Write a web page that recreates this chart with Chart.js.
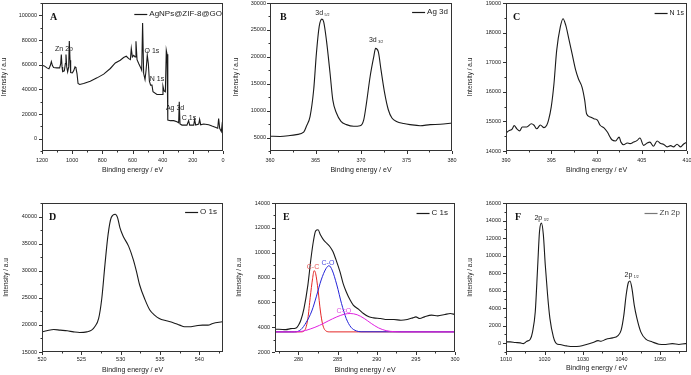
<!DOCTYPE html>
<html>
<head>
<meta charset="utf-8">
<script src="https://cdn.jsdelivr.net/npm/chart.js@4.4.1/dist/chart.umd.min.js"></script>
<style>
body { margin: 0; background: #fff; }
#wrap { position: relative; width: 691px; height: 375px; overflow: hidden; background: #fff; }
canvas { position: absolute; }
</style>
</head>
<body>
<div id="wrap">
  <canvas id="pA" width="230" height="185" style="left:0;top:0"></canvas>
  <canvas id="pB" width="230" height="185" style="left:230px;top:0"></canvas>
  <canvas id="pC" width="231" height="185" style="left:460px;top:0"></canvas>
  <canvas id="pD" width="230" height="190" style="left:0;top:185px"></canvas>
  <canvas id="pE" width="230" height="190" style="left:230px;top:185px"></canvas>
  <canvas id="pF" width="231" height="190" style="left:460px;top:185px"></canvas>
</div>
<script>
// A - survey
const surveyBE = [1200,1185,1167,1154,1145,1138,1131,1123,1101,1083,1076,1072,1067,1063,1052,1045,1041,1036,1030,1023,
  1019,1014,1010,999,990,981,975,968,961,950,924,880,835,791,747,714,681,659,641,625,
  614,608,601,592,583,577,570,559,548,539,533,526,517,510,502,495,488,480,471,464,
  438,404,398,391,382,376,371,367,365,349,327,305,294,290,285,272,239,228,221,194,
  188,181,161,155,148,128,95,73,51,35,29,22,11,4,0];
const surveyInt = [59560,59020,57400,56600,59300,62500,59300,57700,57400,57400,60900,68200,58200,54400,55000,60900,68200,58200,54200,58200,
  79200,63600,53600,53400,55000,58200,57400,52800,44700,43900,44700,46600,49300,52300,56900,61400,63600,65800,66800,64900,
  64100,73000,66300,67600,66300,79000,64100,60900,58200,55500,93800,52800,48000,55500,67600,60900,46600,43400,43400,38000,
  35800,35800,42600,38800,38000,71700,68400,58200,15100,14600,14600,13700,12900,29900,11900,11000,11000,14600,11000,11000,
  15600,11000,11900,15600,11300,11900,11300,10200,9200,8400,16400,8400,5700,13700,3000];
const surveyXTicks = [0,200,400,600,800,1000,1200];
const surveyYTicks = [0,20000,40000,60000,80000,100000];

// B - Ag 3d
const ag3dBE = [360,361.1,362.2,362.9,363.7,364.0,364.4,364.8,365.1,365.4,365.7,365.9,366.2,366.6,366.9,367.3,367.8,368.4,369.2,369.9,
  370.3,370.6,371.0,371.4,371.6,371.9,372.2,372.6,373.0,373.4,373.9,374.7,375.4,376.5,377.6,378.7,380];
const ag3dInt = [5250,5200,5370,5550,6000,7100,8900,13870,20640,25570,27000,26500,23100,16950,12000,9550,8000,7400,7100,7200,
  8300,11400,16300,20000,21560,20950,17560,13250,10170,8630,8000,7600,7400,7200,7400,7460,7700];
const ag3dXTicks = [360,365,370,375,380];
const ag3dYTicks = [5000,10000,15000,20000,25000,30000];

// C - N 1s
const n1sBE = [390,390.3,390.7,390.9,391.2,391.5,391.8,392.3,392.8,393.1,393.4,393.8,394.2,394.5,394.7,395.0,395.3,395.6,396.0,396.3,
  396.6,396.9,397.3,397.7,398.0,398.4,398.7,398.9,399.3,399.7,400.1,400.4,400.8,401.2,401.5,401.7,402.1,402.5,402.7,403.0,
  403.4,403.7,404.1,404.5,404.8,405.2,405.6,405.9,406.3,406.7,407.1,407.4,407.8,408.2,408.5,408.9,409.3,409.6,410];
const n1sInt = [14610,14680,14750,14860,14750,14680,14810,14810,14920,14870,14750,14880,14790,14870,15040,15490,16270,17400,18190,18470,
  18250,17850,17290,16730,16440,16160,15710,15260,15150,15090,15040,14870,14790,14640,14470,14380,14340,14470,14300,14210,
  14270,14250,14300,14360,14440,14190,14270,14300,14160,14340,14250,14230,14140,14180,14140,14230,14140,14230,14300];
const n1sXTicks = [390,395,400,405,410];
const n1sYTicks = [14000,15000,16000,17000,18000,19000];

// D - O 1s
const o1sBE = [520,520.6,521.5,522.3,523.2,524.0,524.8,525.7,526.3,526.7,527.2,527.6,528.0,528.4,528.8,529.3,529.6,529.9,530.3,531.0,
  531.6,532.0,532.4,533.1,533.7,534.3,534.9,535.8,536.6,537.5,538.1,538.7,539.6,540.4,541.1,541.7,542.9];
const o1sInt = [18720,18910,19150,19030,18910,18720,18600,18720,19030,19650,21200,24930,31130,36710,39810,40430,39810,37950,36400,34540,
  32060,29890,27410,24620,22750,21820,21200,20770,20460,19960,19650,19650,19840,19960,19960,20270,20580];
const o1sXTicks = [520,525,530,535,540];
const o1sYTicks = [15000,20000,25000,30000,35000,40000];

// E - C 1s and fitted components
const c1sBE = [276.8,277.5,278.4,279.0,279.7,280.0,280.3,280.7,281.2,281.6,281.9,282.2,282.5,282.8,283.2,283.6,284.0,284.4,284.8,285.3,
  285.7,286.1,286.6,287.0,287.7,288.3,289.0,289.6,290.5,291.3,292.2,293.1,293.9,294.6,295.0,295.5,296.1,297.0,297.8,298.7,299.4,300];
const c1sInt = [3830,3830,3800,3880,3940,4160,4560,5500,7390,9550,10900,11760,11840,11440,11030,10770,10500,10090,9420,8470,
  7530,6850,6180,5780,5430,5100,4830,4750,4700,4620,4620,4560,4620,4750,4830,4700,4830,4970,4910,5020,5100,5020];
const ccBE = [277,280.3,280.8,281.2,281.5,281.8,282.0,282.2,282.5,282.8,283.1,283.5,284,300];
const ccInt = [3620,3620,3750,4700,6400,7900,8550,8300,7000,5300,4200,3700,3620,3620];
const coBE = [277,279.5,280.3,281.0,281.7,282.3,282.9,283.5,283.9,284.3,284.9,285.5,286.1,286.7,287.4,288,300];
const coInt = [3620,3620,3800,4400,5300,6500,7800,8700,8950,8600,7400,5900,4700,4000,3700,3630,3620];
const cdoBE = [277,279,280.3,281.5,282.7,283.8,284.9,285.9,286.6,287.5,288.4,289.3,290.2,291.2,292.2,293,300];
const cdoInt = [3620,3620,3650,3850,4150,4500,4830,5050,5100,5000,4700,4300,3950,3720,3640,3620,3620];
const c1sXTicks = [280,285,290,295,300];
const c1sYTicks = [2000,4000,6000,8000,10000,12000,14000];

// F - Zn 2p
const zn2pBE = [1010,1011.1,1012.4,1013.7,1014.5,1015.4,1016.3,1016.9,1017.6,1018.2,1018.7,1019.2,1019.7,1020.2,1020.8,1021.4,1022.3,1023.1,1024.0,1025.7,
  1027.4,1029.1,1030.9,1032.6,1033.9,1034.7,1036.0,1037.7,1039.0,1039.9,1040.6,1041.2,1041.8,1042.2,1042.7,1043.3,1044.0,1045.0,1046.3,1048.0,
  1049.7,1051.5,1053.2,1054.9,1056.6,1057];
const zn2pInt = [150,150,80,40,-40,230,460,1300,3590,8550,12750,13700,12370,8930,5500,2830,730,-40,-150,-300,
  -380,-340,-150,80,300,230,460,610,840,1490,3210,5500,6950,7100,6260,4350,2830,1300,460,150,
  -110,-150,-40,-150,-40,-40];
const zn2pXTicks = [1010,1020,1030,1040,1050];
const zn2pYTicks = [0,2000,4000,6000,8000,10000,12000,14000,16000];

const FONT = '"Liberation Sans", Arial, sans-serif';
const INK = '#1a1a1a';

function pts(xs, ys) {
    return xs.map((x, i) => ({ x: x, y: ys[i] }));
}

function line(xs, ys, color, width, smooth) {
    return {
        data: pts(xs, ys),
        borderColor: color,
        borderWidth: width,
        pointRadius: 0,
        fill: false,
        tension: smooth ? 0.4 : 0,
        cubicInterpolationMode: smooth ? 'monotone' : 'default'
    };
}

// frame, minor ticks, panel letter, inner legend and peak labels
const panelPlugin = {
    id: 'panel',
    afterDraw(chart, args, o) {
        const { ctx, chartArea: a, scales } = chart;
        const xs = scales.x, ys = scales.y;
        ctx.save();
        ctx.strokeStyle = '#333';
        ctx.lineWidth = 1;
        ctx.strokeRect(Math.round(a.left) + 0.5, Math.round(a.top) + 0.5,
            Math.round(a.right - a.left) - 1, Math.round(a.bottom - a.top) - 1);

        ctx.beginPath();
        const majX = xs.ticks.map(t => t.value);
        const majY = ys.ticks.map(t => t.value);
        majX.forEach(v => {
            const p = Math.round(xs.getPixelForValue(v)) + 0.5;
            ctx.moveTo(p, a.bottom); ctx.lineTo(p, a.bottom + 3);
        });
        majY.forEach(v => {
            const p = Math.round(ys.getPixelForValue(v)) + 0.5;
            ctx.moveTo(a.left, p); ctx.lineTo(a.left - 3, p);
        });
        for (let v = Math.ceil(xs.min / o.xMinor) * o.xMinor; v <= xs.max + 1e-9; v += o.xMinor) {
            if (majX.some(m => Math.abs(m - v) < 1e-6)) continue;
            const p = Math.round(xs.getPixelForValue(v)) + 0.5;
            ctx.moveTo(p, a.bottom); ctx.lineTo(p, a.bottom + 1.5);
        }
        for (let v = Math.ceil(ys.min / o.yMinor) * o.yMinor; v <= ys.max + 1e-9; v += o.yMinor) {
            if (majY.some(m => Math.abs(m - v) < 1e-6)) continue;
            const p = Math.round(ys.getPixelForValue(v)) + 0.5;
            ctx.moveTo(a.left, p); ctx.lineTo(a.left - 1.5, p);
        }
        ctx.stroke();

        // letter
        ctx.fillStyle = '#111';
        ctx.font = 'bold 10px "Liberation Serif", serif';
        ctx.textAlign = 'left';
        ctx.textBaseline = 'middle';
        ctx.fillText(o.letter, a.left + o.letterDx, a.top + 14);

        // legend
        const lg = o.legend;
        ctx.font = (lg.size || 8) + 'px ' + FONT;
        const tw = ctx.measureText(lg.text).width;
        const tx = a.right - lg.pad;
        const ty = a.top + lg.dy;
        ctx.fillStyle = lg.textColor || '#222';
        ctx.textAlign = 'right';
        ctx.fillText(lg.text, tx, ty);
        ctx.beginPath();
        ctx.strokeStyle = lg.color;
        ctx.lineWidth = 1.2;
        ctx.moveTo(tx - tw - 2, ty + 0.5);
        ctx.lineTo(tx - tw - 15, ty + 0.5);
        ctx.stroke();

        // peak labels
        (o.notes || []).forEach(n => {
            const px = xs.getPixelForValue(n.x);
            const py = ys.getPixelForValue(n.y);
            ctx.font = '7px ' + FONT;
            ctx.fillStyle = n.color || '#222';
            ctx.textAlign = 'center';
            ctx.fillText(n.text, px, py);
            if (n.sub) {
                const w = ctx.measureText(n.text).width;
                ctx.font = '3.5px ' + FONT;
                ctx.textAlign = 'left';
                ctx.fillText(n.sub, px + w / 2 + 1.5, py + 2);
            }
        });
        ctx.restore();
    }
};

function makeChart(id, c) {
    const cv = document.getElementById(id);
    const W = cv.width, H = cv.height;
    const p = c.plot;
    return new Chart(cv, {
        type: 'line',
        data: { datasets: c.datasets },
        options: {
            responsive: false,
            animation: false,
            devicePixelRatio: 1,
            layout: { padding: { left: 0, right: W - p.r, top: p.t, bottom: 0 } },
            plugins: {
                legend: { display: false },
                tooltip: { enabled: false },
                panel: c.panel
            },
            scales: {
                x: {
                    type: 'linear',
                    min: c.xMin, max: c.xMax,
                    reverse: !!c.reverse,
                    grid: { display: false, drawTicks: false },
                    border: { display: false },
                    afterBuildTicks: s => { s.ticks = c.xTicks.map(v => ({ value: v })); },
                    afterFit: s => { s.height = H - p.b; s.paddingLeft = 0; s.paddingRight = 0; },
                    ticks: {
                        autoSkip: false, maxRotation: 0, padding: c.xTickPad,
                        font: { family: FONT, size: 5.5 }, color: '#222',
                        callback: v => String(v)
                    },
                    title: {
                        display: true, text: 'Binding energy / eV', color: '#222',
                        font: { family: FONT, size: 7 },
                        padding: { top: 0, bottom: c.xTitlePad }
                    }
                },
                y: {
                    type: 'linear',
                    min: c.yMin, max: c.yMax,
                    grid: { display: false, drawTicks: false },
                    border: { display: false },
                    afterBuildTicks: s => { s.ticks = c.yTicks.map(v => ({ value: v })); },
                    afterFit: s => { s.width = p.l; s.paddingTop = 0; s.paddingBottom = 0; },
                    ticks: {
                        autoSkip: false, padding: c.yTickPad,
                        font: { family: FONT, size: 5.5 }, color: '#222',
                        callback: v => String(v)
                    },
                    title: {
                        display: true, text: 'Intensity / a.u', color: '#222',
                        font: { family: FONT, size: 6.5 },
                        padding: { top: c.yTitlePad, bottom: 0 }
                    }
                }
            }
        },
        plugins: [panelPlugin]
    });
}

makeChart('pA', {
    plot: { l: 42, r: 223, t: 3, b: 151 },
    xMin: 0, xMax: 1200, reverse: true, yMin: -10000, yMax: 110000,
    xTicks: surveyXTicks, yTicks: surveyYTicks,
    xTickPad: 6, yTickPad: 5, xTitlePad: 11, yTitlePad: 0,
    datasets: [line(surveyBE, surveyInt, INK, 1.1, false)],
    panel: {
        letter: 'A', letterDx: 8, xMinor: 100, yMinor: 10000,
        legend: { text: 'AgNPs@ZIF-8@GO', color: INK, pad: 1, dy: 11 },
        notes: [
            { x: 1054, y: 72600, text: 'Zn 2p' },
            { x: 471, y: 71000, text: 'O 1s' },
            { x: 438, y: 48400, text: 'N 1s' },
            { x: 318, y: 25000, text: 'Ag 3d' },
            { x: 225, y: 16900, text: 'C 1s' }
        ]
    }
});

makeChart('pB', {
    plot: { l: 40, r: 222, t: 3, b: 151 },
    xMin: 360, xMax: 380, yMin: 2500, yMax: 30000,
    xTicks: ag3dXTicks, yTicks: ag3dYTicks,
    xTickPad: 6, yTickPad: 4, xTitlePad: 11, yTitlePad: 2,
    datasets: [line(ag3dBE, ag3dInt, INK, 1.1, true)],
    panel: {
        letter: 'B', letterDx: 10, xMinor: 2.5, yMinor: 2500,
        legend: { text: 'Ag 3d', color: INK, pad: 4, dy: 9 },
        notes: [
            { x: 365.4, y: 28100, text: '3d', sub: '5/2' },
            { x: 371.3, y: 23100, text: '3d', sub: '3/2' }
        ]
    }
});

makeChart('pC', {
    plot: { l: 46, r: 227, t: 3, b: 151 },
    xMin: 390, xMax: 410, yMin: 14000, yMax: 19000,
    xTicks: n1sXTicks, yTicks: n1sYTicks,
    xTickPad: 6, yTickPad: 5, xTitlePad: 11, yTitlePad: 6,
    datasets: [line(n1sBE, n1sInt, INK, 1.1, true)],
    panel: {
        letter: 'C', letterDx: 7, xMinor: 2.5, yMinor: 500,
        legend: { text: 'N 1s', color: INK, pad: 3, dy: 10, size: 7 },
        notes: []
    }
});

makeChart('pD', {
    plot: { l: 42, r: 223, t: 18, b: 167 },
    xMin: 520, xMax: 543, yMin: 15000, yMax: 42500,
    xTicks: o1sXTicks, yTicks: o1sYTicks,
    xTickPad: 4, yTickPad: 5, xTitlePad: 1, yTitlePad: 2,
    datasets: [line(o1sBE, o1sInt, INK, 1.1, true)],
    panel: {
        letter: 'D', letterDx: 7, xMinor: 2.5, yMinor: 2500,
        legend: { text: 'O 1s', color: INK, pad: 6, dy: 9 },
        notes: []
    }
});

makeChart('pE', {
    plot: { l: 45, r: 225, t: 18, b: 167 },
    xMin: 277, xMax: 300, yMin: 2000, yMax: 14000,
    xTicks: c1sXTicks, yTicks: c1sYTicks,
    xTickPad: 4, yTickPad: 5, xTitlePad: 1, yTitlePad: 5,
    datasets: [
        line(cdoBE, cdoInt, '#e020e0', 1, true),
        line(coBE, coInt, '#2424d8', 1, true),
        line(ccBE, ccInt, '#e42626', 1, true),
        line(c1sBE, c1sInt, INK, 1.1, true)
    ],
    panel: {
        letter: 'E', letterDx: 8, xMinor: 2.5, yMinor: 1000,
        legend: { text: 'C 1s', color: INK, pad: 7, dy: 10 },
        notes: [
            { x: 281.86, y: 8880, text: 'C-C', color: '#e85050' },
            { x: 283.77, y: 9150, text: 'C-O', color: '#4a4ae0' },
            { x: 285.8, y: 5290, text: 'C=O', color: '#e050e0' }
        ]
    }
});

makeChart('pF', {
    plot: { l: 46, r: 227, t: 18, b: 167 },
    xMin: 1010, xMax: 1057, yMin: -1000, yMax: 16000,
    xTicks: zn2pXTicks, yTicks: zn2pYTicks,
    xTickPad: 4, yTickPad: 5, xTitlePad: 3, yTitlePad: 6,
    datasets: [line(zn2pBE, zn2pInt, INK, 1.1, true)],
    panel: {
        letter: 'F', letterDx: 9, xMinor: 5, yMinor: 1000,
        legend: { text: 'Zn 2p', color: '#777', textColor: '#444', pad: 7, dy: 10 },
        notes: [
            { x: 1018.4, y: 14280, text: '2p', sub: '3/2' },
            { x: 1041.8, y: 7790, text: '2p', sub: '1/2' }
        ]
    }
});
</script>
</body>
</html>
